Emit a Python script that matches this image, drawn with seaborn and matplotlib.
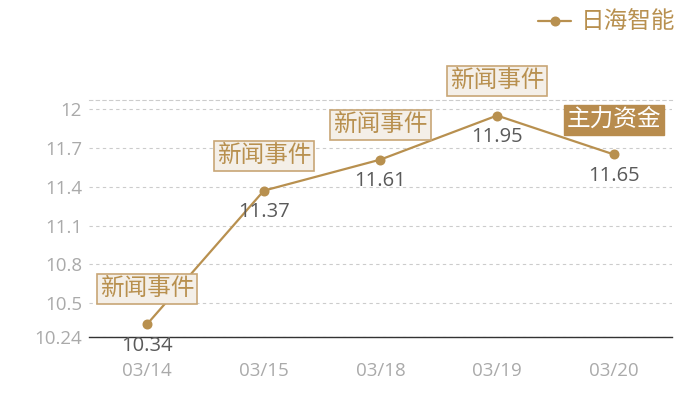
import matplotlib
matplotlib.use("Agg")
import matplotlib.pyplot as plt
import seaborn as sns
import pandas as pd

dates = ["03/14", "03/15", "03/18", "03/19", "03/20"]
prices = [10.34, 11.37, 11.61, 11.95, 11.65]
events = ["新闻事件", "新闻事件", "新闻事件", "新闻事件", "主力资金"]
series_name = "日海智能"
yticks = [10.24, 10.5, 10.8, 11.1, 11.4, 11.7, 12]
ymin, ymax = 10.24, 12.07

sns.set_theme(style="white")
plt.rcParams['font.family'] = ['Open Sans', 'Noto Sans CJK SC', 'DejaVu Sans']

GOLD = "#b8904f"
df = pd.DataFrame({"date": dates, "price": prices})

fig = plt.figure(figsize=(7, 4), dpi=100)
ax = fig.add_axes([0.127, 0.1575, 0.833, 0.5925])

sns.pointplot(data=df, x="date", y="price", color=GOLD, ax=ax,
              markers="o", markersize=6, linewidth=1.6, label=series_name)

ax.set_xlim(-0.5, len(dates) - 0.5)
ax.set_ylim(ymin, ymax)
ax.set_yticks(yticks)
ax.set_yticklabels([f"{t:g}" for t in yticks])
ax.set_xlabel("")
ax.set_ylabel("")
ax.tick_params(axis="both", length=0, labelsize=13.5, labelcolor="#aaaaaa")
ax.tick_params(axis="x", pad=18)
ax.tick_params(axis="y", pad=5)
ax.yaxis.grid(True, linestyle=(0, (3, 3)), color="#cccccc", linewidth=0.8)
ax.xaxis.grid(False)
for s in ["left", "right"]:
    ax.spines[s].set_visible(False)
ax.spines["top"].set_visible(True)
ax.spines["top"].set_linestyle((0, (3, 3)))
ax.spines["top"].set_color("#cccccc")
ax.spines["top"].set_linewidth(0.8)
ax.spines["bottom"].set_color("#333333")
ax.spines["bottom"].set_linewidth(1.0)

for i, (v, ev) in enumerate(zip(prices, events)):
    ax.annotate(f"{v:.2f}", xy=(i, v), xytext=(0, -15.5), textcoords="offset points",
                ha="center", va="center", fontsize=14.5, color="#5a5a5a")
    if ev == "主力资金":
        bbox = dict(boxstyle="square,pad=0.12", fc="#b88c4e", ec="#b88c4e", lw=1)
        tc = "white"
    else:
        bbox = dict(boxstyle="square,pad=0.12", fc="#f4efe8", ec="#c8a676", lw=1.2)
        tc = "#b8904f"
    ax.annotate(ev, xy=(i, v), xytext=(0, 25), textcoords="offset points",
                ha="center", va="center", fontsize=17, color=tc, bbox=bbox,
                annotation_clip=False)

leg = ax.legend(loc="upper right", bbox_to_anchor=(1.022, 1.415), frameon=False,
                fontsize=17, handlelength=1.4, handletextpad=0.4, borderaxespad=0)
for t in leg.get_texts():
    t.set_color(GOLD)

fig.savefig("out.png", dpi=100)
